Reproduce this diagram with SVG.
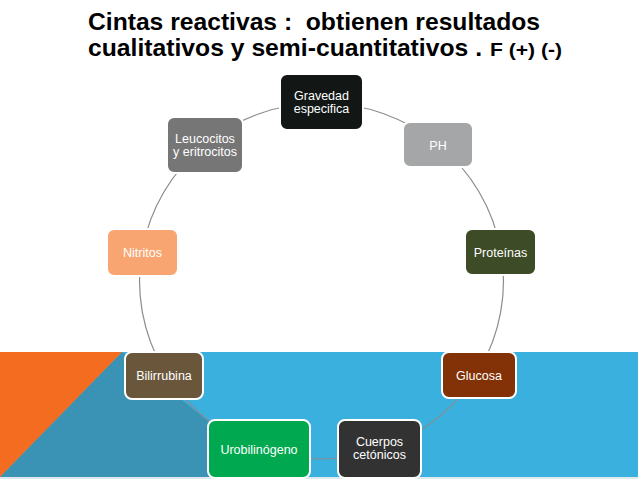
<svg xmlns="http://www.w3.org/2000/svg" width="638" height="479" viewBox="0 0 638 479">
<defs>
<style>
.node rect{stroke:#ffffff;stroke-width:2}
.lbl{font-family:"Liberation Sans",Arial,sans-serif;font-size:12.5px;fill:#ffffff;text-anchor:middle}
.conn path{fill:none;stroke:#8c8c8c;stroke-width:1.2}
.title{font-family:"Liberation Sans",Arial,sans-serif;font-weight:bold;fill:#000000;white-space:pre}
</style>
</defs>
<rect x="0" y="0" width="638" height="479" fill="#ffffff"/>
<g id="background">
<rect x="0" y="352" width="638" height="125" fill="#3AB0DF"/>
<rect x="0" y="477" width="638" height="2" fill="#dfe9ee"/>
<polygon points="122,352 278,477 0,477" fill="#3A93B4"/>
<polygon points="0,352 122,352 0,477" fill="#F36C20"/>
</g>
<g id="title" class="title">
<text x="88" y="30" font-size="24" textLength="452" lengthAdjust="spacingAndGlyphs" xml:space="preserve">Cintas reactivas :  obtienen resultados</text>
<text x="88" y="56" font-size="24" textLength="394" lengthAdjust="spacingAndGlyphs">cualitativos y semi-cuantitativos .</text>
<text x="490" y="56" font-size="19" textLength="72" lengthAdjust="spacingAndGlyphs">F (+) (-)</text>
</g>
<g id="connectors" class="conn">
<path d="M321.5,103 A182,178 0 0 1 438.5,144.6"/>
<path d="M438.5,144.6 A182,178 0 0 1 500.7,250.1"/>
<path d="M500.7,250.1 A182,178 0 0 1 479.1,370"/>
<path d="M479.1,370 A182,178 0 0 1 383.7,448.3"/>
<path d="M383.7,448.3 A182,178 0 0 1 259.3,448.3"/>
<path d="M259.3,448.3 A182,178 0 0 1 163.9,370"/>
<path d="M163.9,370 A182,178 0 0 1 142.3,250.1"/>
<path d="M142.3,250.1 A182,178 0 0 1 204.5,144.6"/>
<path d="M204.5,144.6 A182,178 0 0 1 321.5,103"/>
</g>
<g id="node-gravedad" class="node">
<rect x="280" y="74" width="83" height="56" rx="7" fill="#121716"/>
<text class="lbl" x="321.5" y="100">Gravedad</text>
<text class="lbl" x="321.5" y="113">especifica</text>
</g>
<g id="node-ph" class="node">
<rect x="403" y="122" width="70" height="45" rx="7" fill="#A5A6A8"/>
<text class="lbl" x="438" y="149.5">PH</text>
</g>
<g id="node-proteinas" class="node">
<rect x="465" y="229" width="71" height="46" rx="7" fill="#3D4C26"/>
<text class="lbl" x="500.5" y="256.5">Proteínas</text>
</g>
<g id="node-glucosa" class="node">
<rect x="442" y="352" width="74" height="46" rx="7" fill="#833208"/>
<text class="lbl" x="479" y="379.5">Glucosa</text>
</g>
<g id="node-cuerpos" class="node">
<rect x="338" y="420" width="83" height="58" rx="7" fill="#323232"/>
<text class="lbl" x="379.5" y="446">Cuerpos</text>
<text class="lbl" x="379.5" y="459">cetónicos</text>
</g>
<g id="node-urobilinogeno" class="node">
<rect x="208" y="420" width="102" height="58" rx="7" fill="#00A94F"/>
<text class="lbl" x="259" y="453.5">Urobilinógeno</text>
</g>
<g id="node-bilirrubina" class="node">
<rect x="125" y="352" width="78" height="47" rx="7" fill="#6A573B"/>
<text class="lbl" x="164" y="380">Bilirrubina</text>
</g>
<g id="node-nitritos" class="node">
<rect x="107" y="229" width="71" height="47" rx="7" fill="#F8A572"/>
<text class="lbl" x="142.5" y="257">Nitritos</text>
</g>
<g id="node-leucocitos" class="node">
<rect x="167" y="117" width="76" height="56" rx="7" fill="#767676"/>
<text class="lbl" x="205" y="143">Leucocitos</text>
<text class="lbl" x="205" y="156">y eritrocitos</text>
</g>
</svg>
